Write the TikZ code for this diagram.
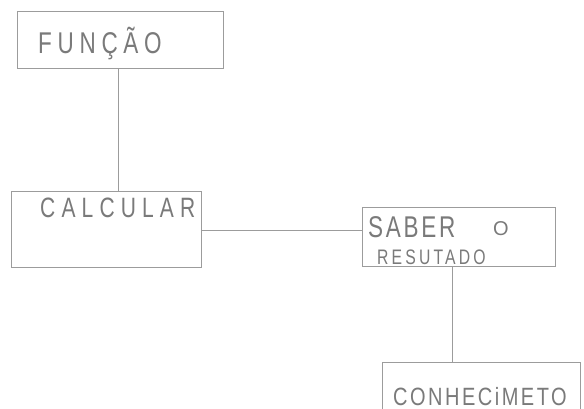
\documentclass[tikz,border=0pt]{standalone}
\usepackage{fontspec}
\setmainfont{Liberation Sans}
\definecolor{pencil}{HTML}{9C9C9C}
\definecolor{pencilText}{HTML}{7A7A7A}
\tikzset{
  box/.style={draw=pencil, line width=0.7pt, rectangle, inner sep=0pt, anchor=north west},
  link/.style={draw=pencil, line width=0.7pt},
  hand/.style={text=pencilText, inner sep=0pt, anchor=base west}
}
% narrow, widely spaced capitals
\newcommand{\handfont}[3]{\fontsize{#1}{#1}\selectfont\addfontfeature{FakeStretch=#2, LetterSpace=#3}}
\begin{document}
\begin{tikzpicture}[x=1pt, y=-1pt]
  \useasboundingbox (0,0) rectangle (584,409);
  \clip (0,0) rectangle (584,409);
  \fill[white] (0,0) rectangle (584,409);

  % boxes
  \node[box, minimum width=206pt, minimum height=57pt] (funcao) at (17,11) {};
  \node[box, minimum width=190pt, minimum height=76pt] (calcular) at (11,191) {};
  \node[box, minimum width=193pt, minimum height=59pt] (saber) at (362,207) {};
  \node[box, minimum width=198pt, minimum height=60pt] (conhec) at (382,362) {};

  % labels
  \node[hand, font={\handfont{30}{0.75}{19}}] (tFuncao) at (38,54) {FUNÇÃO};
  \node[hand, font={\handfont{28}{0.75}{22}}] (tCalc) at (40,217) {CALCULAR};
  \node[hand, font={\handfont{30}{0.75}{9}}] (tSaber) at (368,237) {SABER};
  \node[hand, font={\handfont{20}{1}{0}}] (tO) at (493,235) {O};
  \node[hand, font={\handfont{21}{0.75}{15}}] (tRes) at (377,264) {RESUTADO};
  \node[hand, font={\handfont{25}{0.8}{10}}] (tConh) at (393,405) {CONHECiMETO};

  % connectors
  \draw[link] ([xshift=-2pt]funcao.south) -- ([xshift=-2pt]funcao.south |- calcular.north);
  \draw[link] ([yshift=-1pt]calcular.east) -- ([yshift=-1pt]calcular.east -| saber.west);
  \coordinate (sabDrop) at ([xshift=-7pt]saber.south);
  \draw[link] (sabDrop) -- (sabDrop |- conhec.north);
\end{tikzpicture}
\end{document}
